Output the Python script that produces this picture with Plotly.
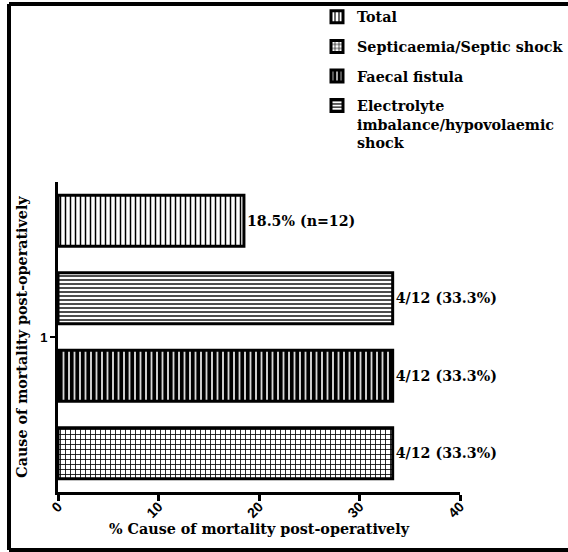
import plotly.graph_objects as go

# Data (legend order)
categories = ["Total", "Septicaemia/Septic shock", "Faecal fistula",
              "Electrolyte<br>imbalance/hypovolaemic<br>shock"]
values = [18.5, 33.3, 33.3, 33.3]
bar_labels = ["18.5% (n=12)", "4/12 (33.3%)", "4/12 (33.3%)", "4/12 (33.3%)"]
group_label = [1]
x_ticks = [0, 10, 20, 30, 40]

# styles (pattern per category)
patterns = {
    "Total": dict(shape="|", size=5, solidity=0.3),
    "Septicaemia/Septic shock": dict(shape="+", size=5, solidity=0.3),
    "Faecal fistula": dict(shape="|", size=5.5, solidity=0.72),
    categories[3]: dict(shape="-", size=4, solidity=0.35),
}
# draw order bottom -> top
draw_order = [1, 2, 3, 0]

SERIF = "DejaVu Serif"
SANS = "Liberation Sans"
FS = 14.3

fig = go.Figure()
for i in draw_order:
    p = patterns[categories[i]]
    fig.add_trace(go.Bar(
        y=group_label, x=[values[i]], orientation="h",
        name=categories[i], legendrank=i + 1, legendgroup=f"g{i}",
        text=[bar_labels[i]], textposition="outside", cliponaxis=False,
        constraintext="none",
        textfont=dict(family=SERIF, size=14.2, color="black", weight="bold"),
        marker=dict(color="white",
                    line=dict(color="black", width=3),
                    pattern=dict(shape=p["shape"], size=p["size"], solidity=p["solidity"],
                                 fgcolor="black", bgcolor="white", fillmode="replace")),
    ))

L, R, T, B = 58, 108, 182, 60
W, H = 568, 552
pw, ph = W - L - R, H - T - B

def px_x(x):
    return (x - L) / pw

def px_y(y):
    return (H - B - y) / ph

frame = dict(color="black", width=4)
fl, fr, ft, fb = px_x(9), px_x(W), px_y(4), px_y(550)
fig.add_shape(type="line", xref="paper", yref="paper", x0=fl, x1=fl, y0=fb, y1=ft, line=frame)
fig.add_shape(type="line", xref="paper", yref="paper", x0=fl, x1=fr, y0=ft, y1=ft, line=frame)
fig.add_shape(type="line", xref="paper", yref="paper", x0=fl, x1=fr, y0=fb, y1=fb, line=frame)

fig.update_layout(
    width=W, height=H,
    margin=dict(l=L, r=R, t=T, b=B, autoexpand=False),
    paper_bgcolor="white", plot_bgcolor="white",
    barmode="group", bargap=0.0, bargroupgap=0.34,
    showlegend=True,
    legend=dict(xref="container", yref="container",
                x=317 / W, y=1 - 1 / H, xanchor="left", yanchor="top",
                font=dict(family=SERIF, size=FS, color="black", weight="bold"),
                valign="top", bgcolor="rgba(0,0,0,0)", tracegroupgap=8,
                traceorder="grouped"),
    xaxis=dict(range=[0, 40], tickvals=x_ticks, ticktext=[str(t) for t in x_ticks],
               tickangle=-45, ticks="outside", ticklen=6, tickwidth=3, tickcolor="black",
               showline=True, linewidth=3, linecolor="black", showgrid=False, zeroline=False,
               automargin=False, ticklabelstandoff=-8,
               tickfont=dict(family=SANS, size=14, color="black", weight="bold"),
               title=dict(text="% Cause of mortality post-operatively",
                          font=dict(family=SERIF, size=FS, color="black", weight="bold"),
                          standoff=3)),
    yaxis=dict(range=[0.5, 1.5], tickvals=group_label, ticktext=[str(v) for v in group_label],
               ticks="outside", ticklen=5, tickwidth=2, tickcolor="black",
               showline=True, linewidth=3, linecolor="black", showgrid=False, zeroline=False,
               automargin=False,
               tickfont=dict(family=SANS, size=13, color="black", weight="bold"),
               title=dict(text="Cause of mortality post-operatively",
                          font=dict(family=SERIF, size=FS, color="black", weight="bold"),
                          standoff=10)),
)

fig.write_html("out.html", config={"displayModeBar": False},
               post_script="document.body.style.margin='0';"
                           "document.body.style.overflow='hidden';"
                           "document.documentElement.style.overflow='hidden';")
